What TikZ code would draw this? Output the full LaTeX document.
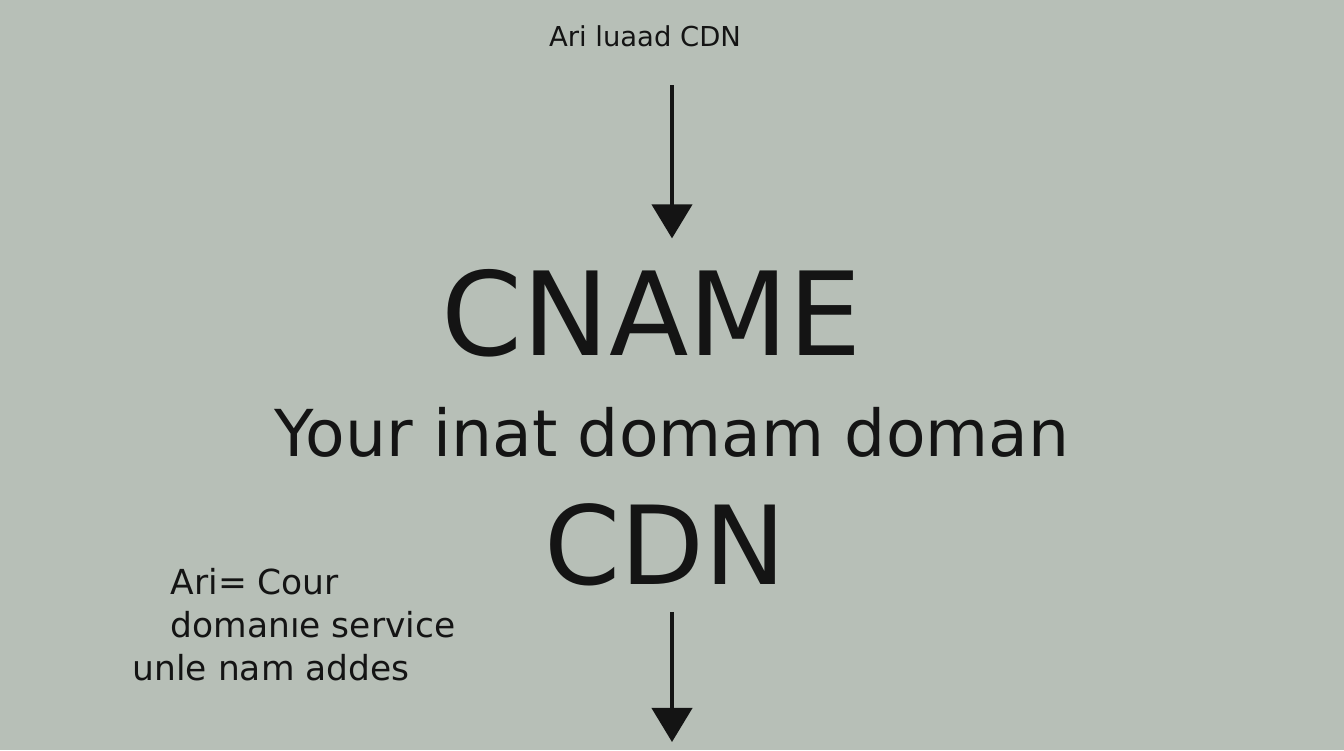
\documentclass[tikz,border=0pt]{standalone}
\usepackage{fontspec}
\setmainfont{DejaVu Sans}
\usetikzlibrary{arrows.meta}
\definecolor{bgcol}{RGB}{183,191,183}
\definecolor{inkcol}{RGB}{20,20,20}

\begin{document}
\begin{tikzpicture}[x=0.01cm,y=-0.01cm]
\fill[bgcol] (0,0) rectangle (1344,750);
\useasboundingbox (0,0) rectangle (1344,750);
\begin{scope}[every node/.style={inner sep=0pt,text=inkcol}]
    \node[font=\fontsize{7.8}{9}\selectfont] (src) at (645,36) {Ari luaad CDN};
    \node[font=\fontsize{33}{36}\selectfont] (cname) at (652,313) {CNAME};
    \node[font=\fontsize{18.4}{20}\selectfont] (dom) at (672,432) {Your inat domam doman};
    \node[font=\fontsize{31}{34}\selectfont] (cdn) at (665,545) {CDN};
    \node[font=\fontsize{9.8}{11}\selectfont,anchor=west] (n1) at (170,582) {Ari= Cour};
    \node[font=\fontsize{9.8}{11}\selectfont,anchor=west] (n2) at (170,625) {domanıe service};
    \node[font=\fontsize{9.8}{11}\selectfont,anchor=west] (n3) at (132,668) {unle nam addes};
\end{scope}
\coordinate (out) at (672,742);

\begin{scope}[>={Triangle[length=0.34cm,width=0.4cm]},
              every path/.style={draw=inkcol,line width=1.2pt}]
    \draw[->,shorten <=0.38cm,shorten >=0.3cm] (src.south -| 672,0) -- (cname.north -| 672,0);
    \draw[->,shorten <=0.25cm] (cdn.south -| 672,0) -- (out);
\end{scope}
\end{tikzpicture}
\end{document}
